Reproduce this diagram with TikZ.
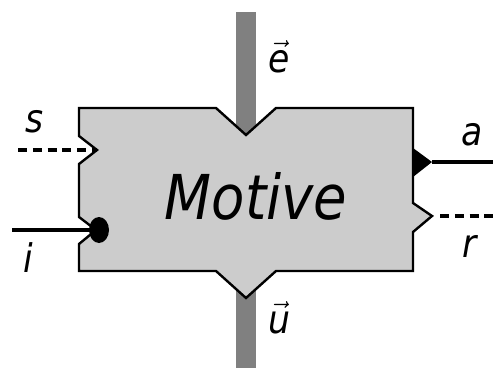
\documentclass[tikz,border=0pt]{standalone}
\usepackage{fontspec}
\setmainfont{DejaVu Sans}
\newfontfamily\motivefont[FakeStretch=0.88]{DejaVu Sans}
\usepackage{tikz}
\usetikzlibrary{positioning,calc}
\definecolor{boxgray}{RGB}{204,204,204}
\definecolor{bargray}{RGB}{128,128,128}

\begin{document}
\begin{tikzpicture}[x=0.025cm,y=-0.025cm,
  outline/.style={draw=black, line width=1.7pt, line join=miter},
  sigline/.style={line width=3.4pt},
  sigdash/.style={line width=3.4pt, dash pattern=on 6.5pt off 4pt},
  portlabel/.style={font=\motivefont\itshape\fontsize{28}{32}\selectfont, inner sep=0pt}]
\useasboundingbox (0,0) rectangle (493,368);

% the vertical bar behind the box
\coordinate (bar-top) at (246,12);
\coordinate (bar-bot) at (246,368);
\draw[bargray, line width=0.5cm] (bar-top) -- (bar-bot);

% box with its notches
\filldraw[fill=boxgray, outline]
  (79,108) -- (216,108) -- (246,135) -- (276,108) -- (413,108)
  -- (413,203) -- (432,216) -- (413,232) -- (413,271)
  -- (276,271) -- (246,298) -- (216,271) -- (79,271)
  -- (79,244) -- (96,230) -- (79,217)
  -- (79,164) -- (97,150) -- (79,136) -- cycle;
\node[font=\motivefont\itshape\fontsize{44}{48}\selectfont] (motive) at (256,196) {Motive};

% ports
\coordinate (s-port) at (97,150);
\coordinate (s-end) at (18,150);
\coordinate (i-port) at (96,230);
\coordinate (i-end) at (12,230);
\coordinate (a-port) at (432,162);
\coordinate (a-end) at (493,162);
\coordinate (r-port) at (440,216);
\coordinate (r-end) at (493,216);

\draw[sigdash] (s-end) -- (s-port);
\draw[sigline] (i-end) -- (i-port);
\fill (99,230) ellipse [x radius=10, y radius=13];
\fill (413,148) -- (a-port) -- (413,177) -- cycle;
\draw[sigline] (a-port) -- (a-end);
\draw[sigdash] (r-port) -- (r-end);

% labels
\node[portlabel] (s-lbl) at (35,122) {s};
\node[portlabel] (i-lbl) at (28,258) {i};
\node[portlabel] (a-lbl) at (472,135) {a};
\node[portlabel] (r-lbl) at (470,246) {r};
\node[portlabel] (e-lbl) at (279,57) {$\vec{\hbox{\motivefont\itshape e}}$};
\node[portlabel] (u-lbl) at (279,318) {$\vec{\hbox{\motivefont\itshape u}}$};
\end{tikzpicture}
\end{document}
